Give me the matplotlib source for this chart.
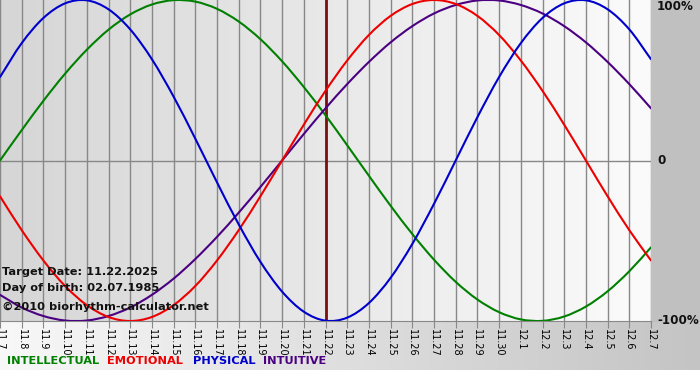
import numpy as np
import matplotlib
matplotlib.use("Agg")
import matplotlib.pyplot as plt
from matplotlib.colors import LinearSegmentedColormap
from matplotlib.path import Path
from matplotlib.patches import PathPatch

# ---- data ----
day_labels = ["11.7", "11.8", "11.9", "11.10", "11.11", "11.12", "11.13", "11.14",
              "11.15", "11.16", "11.17", "11.18", "11.19", "11.20", "11.21", "11.22",
              "11.23", "11.24", "11.25", "11.26", "11.27", "11.28", "11.29", "11.30",
              "12.1", "12.2", "12.3", "12.4", "12.5", "12.6", "12.7"]
physical = [0.520, 0.731, 0.888, 0.979, 0.998, 0.942, 0.817, 0.631, 0.398, 0.136,
            -0.136, -0.398, -0.631, -0.817, -0.942, -0.998, -0.979, -0.888, -0.731,
            -0.520, -0.270, 0.000, 0.270, 0.520, 0.731, 0.888, 0.979, 0.998, 0.942,
            0.817, 0.631]
emotional = [-0.223, -0.434, -0.623, -0.782, -0.901, -0.975, -1.000, -0.975, -0.901,
             -0.782, -0.623, -0.434, -0.223, 0.000, 0.223, 0.434, 0.623, 0.782, 0.901,
             0.975, 1.000, 0.975, 0.901, 0.782, 0.623, 0.434, 0.223, 0.000, -0.223,
             -0.434, -0.623]
intellectual = [0.000, 0.189, 0.372, 0.541, 0.690, 0.815, 0.910, 0.972, 0.999, 0.990,
                0.945, 0.866, 0.756, 0.618, 0.458, 0.282, 0.095, -0.095, -0.282, -0.458,
                -0.618, -0.756, -0.866, -0.945, -0.990, -0.999, -0.972, -0.910, -0.815,
                -0.690, -0.541]
intuitive = [-0.837, -0.916, -0.969, -0.997, -0.997, -0.969, -0.916, -0.837, -0.736,
             -0.614, -0.476, -0.325, -0.165, 0.000, 0.165, 0.325, 0.476, 0.614, 0.736,
             0.837, 0.916, 0.969, 0.997, 0.997, 0.969, 0.916, 0.837, 0.736, 0.614,
             0.476, 0.325]
target_day = "11.22"
info_lines = ["Target Date: 11.22.2025", "Day of birth: 02.07.1985",
              "\u00a92010 biorhythm-calculator.net"]
series_names = ["INTELLECTUAL", "EMOTIONAL", "PHYSICAL", "INTUITIVE"]
y_labels = ["100%", "0", "-100%"]

# ---- style ----
colors = {"INTELLECTUAL": "#008000", "EMOTIONAL": "#ee0000",
          "PHYSICAL": "#0000cc", "INTUITIVE": "#4b0082"}


def smooth_path(xs, ys):
    """Catmull-Rom curve through the data points as cubic Bezier segments."""
    pts = np.column_stack([xs, ys]).astype(float)
    ext = np.vstack([2 * pts[0] - pts[1], pts, 2 * pts[-1] - pts[-2]])
    verts = [pts[0]]
    codes = [Path.MOVETO]
    for i in range(1, len(ext) - 2):
        p0, p1, p2, p3 = ext[i - 1], ext[i], ext[i + 1], ext[i + 2]
        verts += [p1 + (p2 - p0) / 6.0, p2 - (p3 - p1) / 6.0, p2]
        codes += [Path.CURVE4] * 3
    return Path(verts, codes)


W, H = 700, 380
fig = plt.figure(figsize=(W / 100, H / 100), dpi=100)

# background axes in pixel coordinates
bg = fig.add_axes([0, 0, 1, 1])
bg.set_xlim(0, W)
bg.set_ylim(H, 0)
bg.axis("off")
bottom_cmap = LinearSegmentedColormap.from_list("b", ["#f8f8f8", "#c4c4c4"])
grad = np.linspace(0, 1, 256).reshape(1, -1)
bg.imshow(grad, cmap=bottom_cmap, extent=[0, W, 370, 321], aspect="auto", zorder=0)
bg.add_patch(plt.Rectangle((651, 0), W - 651, 321, color="#c0c0c0", zorder=1))

# main plot
ax = fig.add_axes([0, 59 / H, 651 / W, 321 / H])
x = np.arange(len(day_labels))
ax.set_xlim(x[0], x[-1])
ax.set_ylim(-1.0, 1.0)
plot_cmap = LinearSegmentedColormap.from_list("p", ["#d6d6d6", "#fbfbfb"])
ax.imshow(grad, cmap=plot_cmap, extent=[x[0], x[-1], -1, 1], aspect="auto", zorder=0)

for xi in x:
    ax.axvline(xi, color="#888888", lw=1.0, zorder=1)
ax.axhline(0, color="#888888", lw=1.0, zorder=1)
ax.axvline(day_labels.index(target_day), color="#7a1010", lw=2.0, zorder=2)

series = {"INTELLECTUAL": intellectual, "EMOTIONAL": emotional,
          "PHYSICAL": physical, "INTUITIVE": intuitive}
for name in ["INTELLECTUAL", "INTUITIVE", "EMOTIONAL", "PHYSICAL"]:
    ax.add_patch(PathPatch(smooth_path(x, series[name]), facecolor="none",
                           edgecolor=colors[name], lw=1.5, zorder=3,
                           capstyle="round", joinstyle="round"))

for s in ["left", "right", "top"]:
    ax.spines[s].set_visible(False)
ax.spines["bottom"].set_color("#888888")
ax.set_yticks([])
ax.set_xticks(x)
ax.set_xticklabels(day_labels, rotation=-90, fontsize=7, family="DejaVu Sans")
ax.tick_params(axis="x", direction="out", length=5, color="#888888", pad=1)

# overlay for texts
top = fig.add_axes([0, 0, 1, 1], facecolor="none")
top.set_xlim(0, W)
top.set_ylim(H, 0)
top.axis("off")

for t, yy in zip(info_lines, [272, 288, 307]):
    top.text(2, yy, t, fontsize=8.2, fontweight="bold", va="center", ha="left",
             color="#111111")

for lab, yy in zip(y_labels, [6, 161, 321]):
    top.text(657, yy, lab, fontsize=8.6, fontweight="bold", va="center", ha="left",
             color="#111111")

for name, xx in zip(series_names, [7, 107, 193, 263]):
    top.text(xx, 361, name, fontsize=8.2, fontweight="bold", va="center", ha="left",
             color=colors[name])

fig.savefig("out.png", dpi=100)
